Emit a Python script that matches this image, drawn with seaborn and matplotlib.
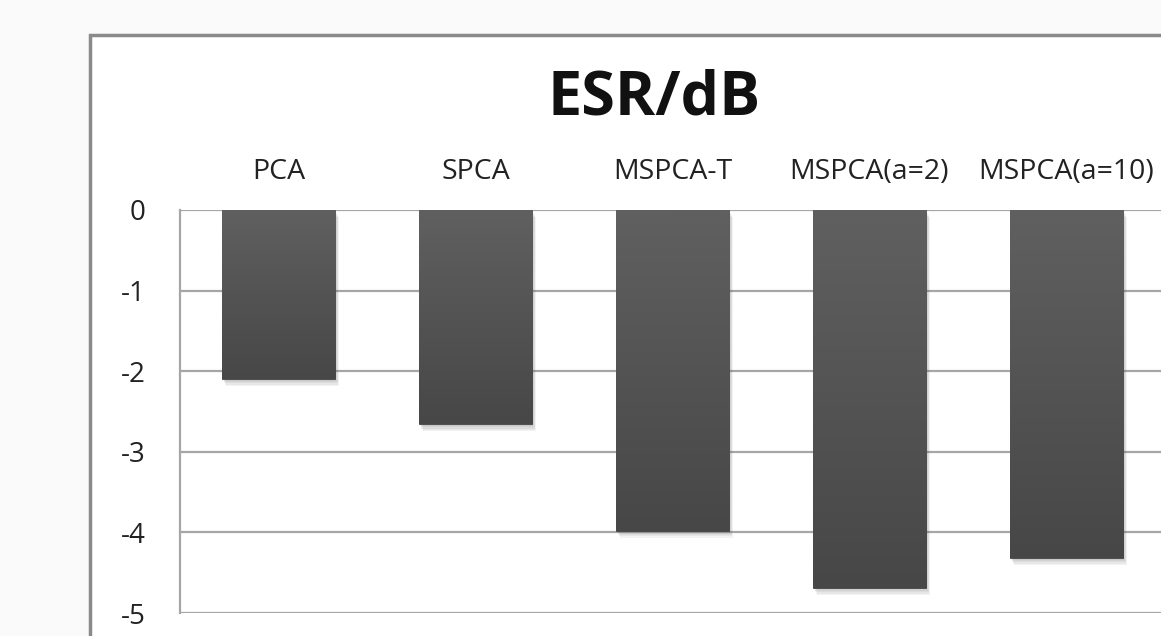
import numpy as np
import pandas as pd
import matplotlib
matplotlib.use("Agg")
import matplotlib.pyplot as plt
import matplotlib.patheffects as pe
from matplotlib.patches import Rectangle
import seaborn as sns

# ESR (dB) per method
methods = ["PCA", "SPCA", "MSPCA-T", "MSPCA(a=2)", "MSPCA(a=10)"]
esr_db = [-2.10, -2.66, -3.98, -4.69, -4.32]
y_ticks = [0, -1, -2, -3, -4, -5]
y_tick_labels = ["0", "-1", "-2", "-3", "-4", "-5"]

df = pd.DataFrame({"method": methods, "esr": esr_db})

sns.set_theme(style="white")
plt.rcParams["font.family"] = ["Open Sans", "DejaVu Sans"]

W, H = 1161, 636
fig = plt.figure(figsize=(W / 100, H / 100), dpi=100)
fig.patch.set_facecolor("#fafafa")

# white chart frame with grey border
frame = Rectangle((90 / W, 0 - 0.05), 1.2, (1 - 35 / H) + 0.05,
                  transform=fig.transFigure, facecolor="white",
                  edgecolor="#8a8a8a", linewidth=2.5, zorder=-10)
fig.patches.append(frame)

left, top, bottom = 180, 210, 613
ax = fig.add_axes([left / W, 1 - bottom / H, 985 / W, (bottom - top) / H])
ax.set_facecolor("white")
ax.set_zorder(1)

sns.barplot(data=df, x="method", y="esr", color="#555555", width=0.575,
            saturation=1, ax=ax, zorder=3)

ax.set_xlim(-0.5, len(methods) - 0.5)
ax.set_ylim(-5, 0)
ax.set_yticks(y_ticks)
ax.set_yticklabels(y_tick_labels)
ax.set_xlabel("")
ax.set_ylabel("")

# horizontal gridlines
for t in y_ticks:
    ax.axhline(t, color="#a6a6a6", linewidth=1.6, zorder=1)

for s in ["top", "right", "bottom"]:
    ax.spines[s].set_visible(False)
ax.spines["left"].set_color("#a6a6a6")
ax.spines["left"].set_linewidth(1.6)

ax.xaxis.tick_top()
ax.tick_params(axis="x", length=0, pad=17, labelsize=20.5, colors="#222222")
ax.tick_params(axis="y", length=0, pad=25, labelsize=20, colors="#222222")

# vertical shading and a soft drop shadow on each bar
grad = np.linspace(0, 1, 256).reshape(-1, 1)
cmap = matplotlib.colors.LinearSegmentedColormap.from_list(
    "bar", ["#606060", "#474747"])
shadow = [pe.SimplePatchShadow(offset=(d * 0.6, -d), alpha=0.07,
                               shadow_rgbFace="#555555")
          for d in (1, 2, 3, 4, 5)]
for p in list(ax.patches):
    x0, w = p.get_x(), p.get_width()
    y0, h = p.get_y(), p.get_height()
    p.set_path_effects(shadow + [pe.Normal()])
    p.set_edgecolor("#444444")
    p.set_linewidth(0.6)
    im = ax.imshow(grad, extent=(x0, x0 + w, y0 + h, y0), aspect="auto",
                   cmap=cmap, origin="upper", zorder=4)
    im.set_clip_path(p)
ax.set_xlim(-0.5, len(methods) - 0.5)
ax.set_ylim(-5, 0)

fig.text(654 / W, 1 - 99 / H, "ESR/dB", ha="center", va="center",
         fontsize=44, fontweight="bold", color="#111111")

fig.savefig("out.png", dpi=100, facecolor=fig.get_facecolor())
